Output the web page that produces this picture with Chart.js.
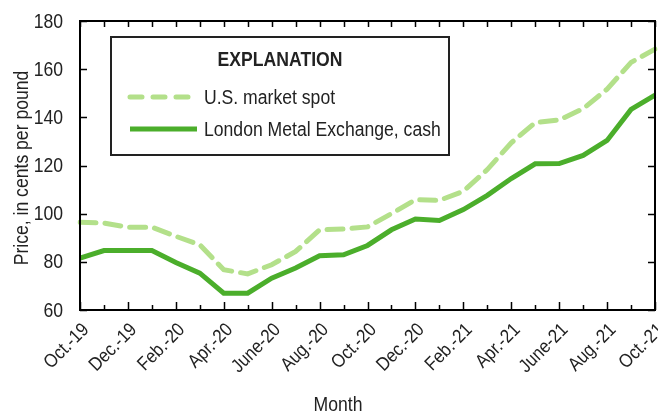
<!DOCTYPE html>
<html><head><meta charset="utf-8">
<script src="https://cdn.jsdelivr.net/npm/chart.js@4/dist/chart.umd.min.js"></script>
<style>html,body{margin:0;padding:0;background:#fff}</style>
</head><body>
<canvas id="c" width="658" height="415"></canvas>
<script>
const months = ["Oct.-19","Nov.-19","Dec.-19","Jan.-20","Feb.-20","Mar.-20","Apr.-20","May-20","June-20","July-20","Aug.-20","Sept.-20","Oct.-20","Nov.-20","Dec.-20","Jan.-21","Feb.-21","Mar.-21","Apr.-21","May-21","June-21","July-21","Aug.-21","Sept.-21","Oct.-21"];
const usSpot = [96.4,96.1,94.4,94.4,90.6,87.1,76.7,75.0,78.8,84.3,93.3,93.6,94.5,100.0,105.8,105.5,109.3,118.3,129.4,137.8,138.9,143.6,151.7,162.8,168.3];
const lmeCash = [81.5,84.7,84.7,84.7,79.7,75.3,67.0,67.0,73.2,77.4,82.5,82.9,86.8,93.3,97.8,97.2,101.7,107.6,114.6,120.7,120.8,124.2,130.4,143.3,149.2];
const yTicks = [60,80,100,120,140,160,180];
const seriesNames = ["U.S. market spot","London Metal Exchange, cash"];
const legendTitle = "EXPLANATION";
const xTitle = "Month";
const yTitle = "Price, in cents per pound";

const FONT = "'Liberation Sans',Arial,sans-serif";
const LIGHT = "#b3e08a", DARK = "#4bae2b", TEXT = "#222";
const NARROW = 0.88;

function narrowText(ctx, text, x, y, angle, align) {
  ctx.save();
  ctx.translate(x, y);
  if (angle) ctx.rotate(angle);
  ctx.scale(NARROW, 1);
  ctx.textAlign = align || "left";
  ctx.fillText(text, 0, 0);
  ctx.restore();
}

const decor = {
  id: "decor",
  afterDraw(chart) {
    const ctx = chart.ctx, a = chart.chartArea;
    const xs = chart.scales.x, ys = chart.scales.y;
    ctx.save();
    ctx.strokeStyle = "#000"; ctx.lineWidth = 2;
    ctx.strokeRect(a.left, a.top, a.right - a.left, a.bottom - a.top);
    ctx.lineWidth = 1.5;
    ctx.beginPath();
    for (let i = 0; i < months.length; i++) {
      const x = Math.round(xs.getPixelForValue(i)) + 0.5;
      ctx.moveTo(x, a.bottom); ctx.lineTo(x, a.bottom - (i % 2 === 0 ? 8 : 5));
      ctx.moveTo(x, a.top); ctx.lineTo(x, a.top + 6);
    }
    for (const v of yTicks) {
      const y = Math.round(ys.getPixelForValue(v)) + 0.5;
      ctx.moveTo(a.left, y); ctx.lineTo(a.left + 7, y);
      ctx.moveTo(a.right, y); ctx.lineTo(a.right - 7, y);
    }
    ctx.stroke();
    // tick labels
    ctx.fillStyle = TEXT;
    ctx.textBaseline = "middle";
    ctx.font = "20px " + FONT;
    for (const v of yTicks) {
      narrowText(ctx, String(v), 63, ys.getPixelForValue(v) + 1, 0, "right");
    }
    ctx.font = "19px " + FONT;
    for (let i = 0; i < months.length; i += 2) {
      const x = xs.getPixelForValue(i);
      narrowText(ctx, months[i], x + 6, a.bottom + 17, -Math.PI / 4, "right");
    }
    // legend box
    const bx = 111, by = 37, bw = 338, bh = 118;
    ctx.fillStyle = "#fff";
    ctx.fillRect(bx, by, bw, bh);
    ctx.lineWidth = 2; ctx.strokeStyle = "#222";
    ctx.strokeRect(bx, by, bw, bh);
    ctx.fillStyle = TEXT;
    ctx.font = "bold 20px " + FONT;
    narrowText(ctx, legendTitle, 280, 60, 0, "center");
    ctx.font = "20px " + FONT;
    ctx.lineWidth = 5; ctx.lineCap = "round";
    ctx.strokeStyle = LIGHT; ctx.setLineDash([12, 11]);
    ctx.beginPath(); ctx.moveTo(130, 97); ctx.lineTo(192, 97); ctx.stroke();
    ctx.setLineDash([]); ctx.lineCap = "butt";
    ctx.strokeStyle = DARK;
    ctx.beginPath(); ctx.moveTo(130, 129); ctx.lineTo(197, 129); ctx.stroke();
    narrowText(ctx, seriesNames[0], 204, 98, 0, "left");
    narrowText(ctx, seriesNames[1], 204, 130, 0, "left");
    // axis titles
    narrowText(ctx, xTitle, 338, 405, 0, "center");
    narrowText(ctx, yTitle, 22, 168, -Math.PI / 2, "center");
    ctx.restore();
  }
};

new Chart(document.getElementById("c"), {
  type: "line",
  data: {
    labels: months,
    datasets: [
      { label: seriesNames[0], data: usSpot, borderColor: LIGHT, borderWidth: 5, borderDash: [16, 9], borderCapStyle: "round", pointRadius: 0, tension: 0, fill: false },
      { label: seriesNames[1], data: lmeCash, borderColor: DARK, borderWidth: 5, pointRadius: 0, tension: 0, fill: false }
    ]
  },
  options: {
    responsive: false, animation: false,
    layout: { padding: { top: 21, right: 3, left: 0, bottom: 0 } },
    plugins: { legend: { display: false }, tooltip: { enabled: false } },
    scales: {
      x: {
        type: "category", offset: false,
        grid: { display: false, drawTicks: false }, border: { display: false },
        ticks: { display: false },
        afterFit: s => { s.height = 105; }
      },
      y: {
        min: 60, max: 180,
        grid: { display: false, drawTicks: false }, border: { display: false },
        ticks: { display: false, stepSize: 20 },
        afterFit: s => { s.width = 80; }
      }
    }
  },
  plugins: [decor]
});
</script>
</body></html>
